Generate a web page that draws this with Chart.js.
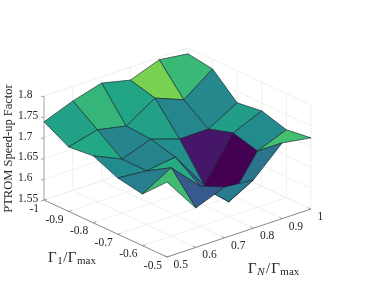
<!DOCTYPE html>
<html lang="en">
<head>
  <meta charset="UTF-8">
  <title>PTROM Speed-up Factor</title>
  <script src="https://cdn.jsdelivr.net/npm/chart.js"></script>
  <style>
    body { margin: 0; background: white; }
    canvas { display: block; }
  </style>
</head>
<body>
  <canvas id="surface-chart" width="366" height="292"></canvas>

  <script>
    // Axis values
    const gamma1Ticks = [-1, -0.9, -0.8, -0.7, -0.6, -0.5];
    const gammaNTicks = [0.5, 0.6, 0.7, 0.8, 0.9, 1];
    const speedUpTicks = [1.55, 1.6, 1.65, 1.7, 1.75, 1.8];

    // Speed-up factor, one list per gamma1 value, running along gammaN
    const speedUpAtM10 = [1.738, 1.765, 1.785, 1.769, 1.795, 1.786];
    const speedUpAtM09 = [1.705, 1.723, 1.709, 1.753, 1.726, 1.777];
    const speedUpAtM08 = [1.711, 1.680, 1.705, 1.682, 1.683, 1.723];
    const speedUpAtM07 = [1.685, 1.679, 1.689, 1.599, 1.701, 1.731];
    const speedUpAtM06 = [1.674, 1.714, 1.647, 1.586, 1.685, 1.713];
    const speedUpAtM05 = [1.730, 1.645, 1.672, 1.666, 1.732, 1.721];
    const speedUp = [speedUpAtM10, speedUpAtM09, speedUpAtM08, speedUpAtM07, speedUpAtM06, speedUpAtM05];

    const viridis = ["#440154", "#482475", "#414487", "#355f8d", "#2a788e", "#21918c",
                     "#22a884", "#44bf70", "#7ad151", "#bddf26", "#fde725"];

    // Fixed view of the 3D box, the same one for marks, grid and axes
    function project(g1, gN, z) {
      const a = (g1 + 1) / 0.5;
      const b = (gN - 0.5) / 0.5;
      return {
        x: 44 + 123 * a + 144 * b,
        y: 200 + 57 * a - 48 * b - (z - 1.55) * 416
      };
    }

    function hexToRgb(hex) {
      return [1, 3, 5].map(p => parseInt(hex.slice(p, p + 2), 16));
    }

    function colorFor(value, low, high) {
      const t = (value - low) / (high - low) * (viridis.length - 1);
      const k = Math.min(Math.floor(t), viridis.length - 2);
      const c1 = hexToRgb(viridis[k]);
      const c2 = hexToRgb(viridis[k + 1]);
      const mix = c1.map((c, n) => Math.round(c + (c2[n] - c) * (t - k)));
      return `rgb(${mix.join(",")})`;
    }

    function lineSet(points, color, width) {
      return {
        data: points,
        showLine: true,
        fill: false,
        borderColor: color,
        borderWidth: width,
        pointRadius: 0,
        clip: false
      };
    }

    const datasets = [];
    const GRID = "#f0f0f0";
    const gMin = gamma1Ticks[0], gMax = gamma1Ticks[5];
    const nMin = gammaNTicks[0], nMax = gammaNTicks[5];
    const zMin = speedUpTicks[0], zMax = speedUpTicks[5];

    // Grid on the floor and on the two back walls
    gamma1Ticks.forEach(g => {
      datasets.push(lineSet([project(g, nMin, zMin), project(g, nMax, zMin), project(g, nMax, zMax)], GRID, 1));
    });
    gammaNTicks.forEach(n => {
      datasets.push(lineSet([project(gMax, n, zMin), project(gMin, n, zMin), project(gMin, n, zMax)], GRID, 1));
    });
    speedUpTicks.forEach(z => {
      datasets.push(lineSet([project(gMin, nMin, z), project(gMin, nMax, z), project(gMax, nMax, z)], GRID, 1));
    });

    // Axis lines and tick marks
    datasets.push(lineSet([project(gMin, nMin, zMin), project(gMin, nMin, zMax)], "#c4c4c4", 1.5));
    datasets.push(lineSet([project(gMin, nMin, zMin), project(gMax, nMin, zMin), project(gMax, nMax, zMin)], "#8c8c8c", 1));
    speedUpTicks.forEach(z => {
      const p = project(gMin, nMin, z);
      datasets.push(lineSet([p, { x: p.x - 3, y: p.y + 1 }], "#8c8c8c", 0.8));
    });
    gamma1Ticks.forEach(g => {
      const p = project(g, nMin, zMin);
      datasets.push(lineSet([p, { x: p.x + 3, y: p.y - 1 }], "#8c8c8c", 0.8));
    });
    gammaNTicks.forEach(n => {
      const p = project(gMax, n, zMin);
      datasets.push(lineSet([p, { x: p.x - 3, y: p.y - 1.4 }], "#8c8c8c", 0.8));
    });

    // Surface faces, back to front. Each face takes its colour from one corner.
    const allValues = speedUp.flat();
    const low = Math.min(...allValues);
    const high = Math.max(...allValues);
    for (let i = 0; i < 5; i++) {
      for (let j = 4; j >= 0; j--) {
        const corners = [[i, j], [i, j + 1], [i + 1, j + 1], [i + 1, j], [i, j]];
        datasets.push({
          data: corners.map(([a, b]) => project(gamma1Ticks[a], gammaNTicks[b], speedUp[a][b])),
          showLine: true,
          fill: "shape",
          backgroundColor: colorFor(speedUp[i + 1][j], low, high),
          borderColor: "rgba(22,34,44,0.9)",
          borderWidth: 0.7,
          pointRadius: 0,
          clip: false
        });
      }
    }

    // Chart.js puts lower order on top, so count down
    datasets.forEach((d, n) => { d.order = datasets.length - n; });

    // Draws a row of text pieces, used for the subscripted axis titles
    function drawPieces(ctx, x, y, pieces) {
      let cx = x;
      pieces.forEach(([text, font, dy, gap]) => {
        ctx.font = font;
        ctx.fillText(text, cx, y + dy);
        cx += ctx.measureText(text).width + gap;
      });
    }

    const SERIF = '"Liberation Serif", serif';

    const axisText = {
      id: "axisText",
      afterDraw(chart) {
        const { ctx, scales } = chart;
        const px = p => ({ x: scales.x.getPixelForValue(p.x), y: scales.y.getPixelForValue(p.y) });
        ctx.save();
        ctx.fillStyle = "#262626";
        ctx.textBaseline = "middle";
        ctx.font = `11.5px ${SERIF}`;

        ctx.textAlign = "left";
        speedUpTicks.forEach(z => {
          const p = px(project(gMin, nMin, z));
          ctx.fillText(String(z), p.x - 26, p.y - 1);
        });
        gammaNTicks.forEach(n => {
          const p = px(project(gMax, n, zMin));
          ctx.fillText(String(n), p.x + 6.5, p.y + 8);
        });
        ctx.textAlign = "right";
        gamma1Ticks.forEach(g => {
          const p = px(project(g, nMin, zMin));
          ctx.fillText(String(g), p.x - 5, p.y + 8.5);
        });
        ctx.textAlign = "left";

        const big = `15px ${SERIF}`;
        const small = `11px ${SERIF}`;
        const smallItalic = `italic 11px ${SERIF}`;
        ctx.textBaseline = "alphabetic";
        drawPieces(ctx, 48, 262, [["Γ", big, 0, 0.5], ["1", small, 2, 0.5], ["/", big, 0, 0.5], ["Γ", big, 0, 0.5], ["max", small, 2, 0]]);
        drawPieces(ctx, 248, 273, [["Γ", big, 0, 0.5], ["N", smallItalic, 2, 1.5], ["/", big, 0, 1], ["Γ", big, 0, 0.5], ["max", small, 2, 0]]);

        ctx.translate(12, 148.5);
        ctx.rotate(-Math.PI / 2);
        ctx.textAlign = "center";
        ctx.font = `12.5px ${SERIF}`;
        ctx.fillText("PTROM Speed-up Factor", 0, 0);
        ctx.restore();
      }
    };

    new Chart(document.getElementById("surface-chart"), {
      type: "scatter",
      data: { datasets },
      options: {
        responsive: false,
        animation: false,
        layout: { padding: 0 },
        plugins: { legend: { display: false }, tooltip: { enabled: false } },
        scales: {
          x: { display: false, min: 0, max: 366 },
          y: { display: false, min: 0, max: 292, reverse: true }
        }
      },
      plugins: [axisText]
    });
  </script>
</body>
</html>
